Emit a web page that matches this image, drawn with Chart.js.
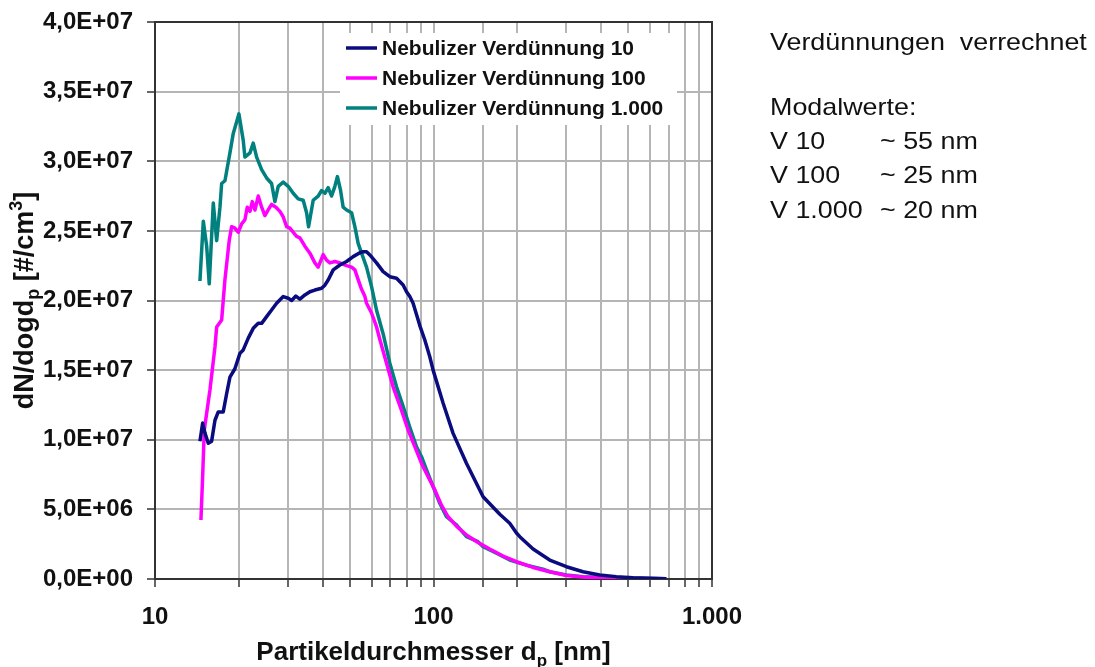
<!DOCTYPE html>
<html><head><meta charset="utf-8">
<script src="https://cdn.jsdelivr.net/npm/chart.js@4.4.0/dist/chart.umd.min.js"></script>
<style>html,body{margin:0;padding:0;background:#fff;}canvas{display:block;}</style>
</head><body>
<canvas id="c" width="1095" height="667"></canvas>
<script>
// ---------- data ----------
const seriesNames = ['Nebulizer Verdünnung 10', 'Nebulizer Verdünnung 100', 'Nebulizer Verdünnung 1.000'];
const seriesColors = ['#0b0b80', '#ff00ff', '#00807e'];

const dV10 = [14.5,14.83,15.11,15.53,15.97,16.42,16.87,17.58,18.08,18.58,19.36,20.18,20.74,21.62,22.53,23.48,24.15,25.16,26.22,27.33,28.87,30.08,30.94,32.05,33.13,34.53,35.99,37.5,39.64,40.74,41.86,43.64,46.11,48.74,51.47,54.4,55.9,57.49,59.08,62.45,65.95,69.7,73.66,77.79,80.01,82.22,84.49,86.9,89.3,93.07,96.98,99.68,108.3,117.6,131.3,150.7,173,187.8,198.6,204.1,227.8,261.4,300.1,344.2,395.2,453.6,520.2,597.1,685.5];
const vV10 = [9.9e6,1.12e7,1.05e7,9.75e6,9.9e6,1.14e7,1.20e7,1.20e7,1.33e7,1.45e7,1.51e7,1.62e7,1.645e7,1.73e7,1.80e7,1.836e7,1.836e7,1.884e7,1.932e7,1.98e7,2.028e7,2.016e7,2.0e7,2.032e7,2.01e7,2.04e7,2.063e7,2.075e7,2.088e7,2.11e7,2.147e7,2.22e7,2.255e7,2.28e7,2.315e7,2.343e7,2.35e7,2.35e7,2.327e7,2.27e7,2.207e7,2.171e7,2.16e7,2.111e7,2.063e7,2.028e7,1.98e7,1.90e7,1.82e7,1.716e7,1.596e7,1.50e7,1.262e7,1.046e7,8.31e6,5.91e6,4.65e6,4.0e6,3.3e6,3.04e6,2.15e6,1.36e6,8.8e5,5.2e5,2.9e5,1.7e5,9e4,5e4,2e4];

const dV100 = [14.62,14.83,15.03,15.75,16.42,16.65,17.35,17.58,17.83,18.47,18.84,19.36,19.9,20.47,21.03,21.44,21.93,22.35,22.85,23.48,24.15,24.81,25.49,26.22,27.18,28.09,28.87,29.69,30.51,31.35,32.24,33.13,34.53,35.99,37.5,38.54,40.17,41.31,42.46,44.25,46.11,48.74,50.8,52.2,53.64,55.17,56.69,57.49,59.92,62.45,64.17,67.82,71.61,76.77,81.07,85.69,90.57,95.64,101.1,106.8,112.8,120.9,131.3,144.5,159.2,177.7,198.6,227.8,261.4,300.1,344.2,395.2,520,685];
const vV100 = [4.24e6,7.4e6,1.07e7,1.357e7,1.668e7,1.81e7,1.86e7,2.0e7,2.15e7,2.43e7,2.53e7,2.52e7,2.49e7,2.55e7,2.58e7,2.67e7,2.64e7,2.71e7,2.65e7,2.75e7,2.67e7,2.61e7,2.65e7,2.69e7,2.67e7,2.64e7,2.60e7,2.53e7,2.52e7,2.49e7,2.46e7,2.45e7,2.39e7,2.34e7,2.27e7,2.24e7,2.33e7,2.29e7,2.27e7,2.28e7,2.27e7,2.25e7,2.24e7,2.22e7,2.15e7,2.08e7,2.03e7,1.98e7,1.91e7,1.81e7,1.72e7,1.55e7,1.38e7,1.21e7,1.07e7,9.5e6,8.3e6,7.35e6,6.4e6,5.3e6,4.47e6,3.8e6,3.16e6,2.62e6,2.15e6,1.65e6,1.24e6,8.3e5,5.2e5,2.5e5,1.4e5,9e4,4e4,1e4];

const dV1000 = [14.5,14.91,15.33,15.66,16.19,16.65,17.11,17.35,17.83,18.58,19.1,20.01,20.74,21.03,21.93,22.53,23.17,24.15,25.16,26.22,26.95,27.7,28.87,30.08,31.35,32.67,34.05,35.02,35.6,36.98,38.54,39.64,40.74,41.86,43.06,44.25,45.2,46.38,47.38,48.74,50.8,52.2,53.64,55.17,57.49,59.92,62.45,65.95,69.7,73.66,77.79,82.22,86.9,90.57,94.39,99.68,105.3,111.3,120.9,131.3,144.5,150.7,168.3,187.8,215.7,247.4,261.4,300.1,344.2,395.2,520.2,685.5];
const vV1000 = [2.14e7,2.57e7,2.39e7,2.12e7,2.70e7,2.43e7,2.67e7,2.84e7,2.86e7,3.06e7,3.20e7,3.34e7,3.15e7,3.03e7,3.06e7,3.13e7,3.03e7,2.94e7,2.88e7,2.84e7,2.71e7,2.82e7,2.85e7,2.82e7,2.77e7,2.73e7,2.72e7,2.63e7,2.53e7,2.72e7,2.75e7,2.79e7,2.77e7,2.81e7,2.75e7,2.82e7,2.89e7,2.79e7,2.67e7,2.65e7,2.63e7,2.53e7,2.41e7,2.34e7,2.24e7,2.10e7,1.93e7,1.76e7,1.55e7,1.38e7,1.24e7,1.09e7,9.5e6,8.78e6,7.83e6,6.63e6,5.44e6,4.47e6,3.88e6,3.04e6,2.68e6,2.32e6,1.85e6,1.36e6,1.0e6,7.0e5,5.2e5,2.9e5,1.7e5,1.2e5,5e4,2e4];

const xTickValues = [10, 100, 1000];
const xTickLabels = ['10', '100', '1.000'];
const yTickLabels = ['0,0E+00','5,0E+06','1,0E+07','1,5E+07','2,0E+07','2,5E+07','3,0E+07','3,5E+07','4,0E+07'];
const xTitle = ['Partikeldurchmesser d', 'p', ' [nm]'];
const yTitle = ['dN/dogd', 'p', ' [#/cm', '3', ']'];
const noteTitle = 'Verdünnungen  verrechnet';
const noteHead = 'Modalwerte:';
const noteRows = [['V 10', '~ 55 nm'], ['V 100', '~ 25 nm'], ['V 1.000', '~ 20 nm']];

// ---------- chart ----------
const FONT = "'Liberation Sans', Arial, sans-serif";
function pts(xs, ys) { return xs.map((x, i) => ({ x: x, y: ys[i] })); }

const deco = {
  id: 'deco',
  afterDatasetsDraw(chart) {
    const ctx = chart.ctx, a = chart.chartArea;
    ctx.save();
    // top/right frame
    ctx.strokeStyle = '#333'; ctx.lineWidth = 2;
    ctx.beginPath(); ctx.moveTo(a.left, a.top); ctx.lineTo(a.right, a.top); ctx.lineTo(a.right, a.bottom); ctx.stroke();
    // legend
    const lx = a.left + 185, ly = a.top + 11;
    ctx.fillStyle = '#fff'; ctx.fillRect(lx, ly, 337, 92);
    ctx.font = 'bold 21px ' + FONT; ctx.textBaseline = 'middle'; ctx.textAlign = 'left';
    seriesNames.forEach((n, i) => {
      const y = ly + 15 + i * 30;
      ctx.strokeStyle = seriesColors[i]; ctx.lineWidth = 3.5;
      ctx.beginPath(); ctx.moveTo(lx + 6, y); ctx.lineTo(lx + 37, y); ctx.stroke();
      ctx.fillStyle = '#111'; ctx.fillText(n, lx + 42, y + 1);
    });
    ctx.restore();
  },
  afterDraw(chart) {
    const ctx = chart.ctx, a = chart.chartArea;
    ctx.save();
    ctx.fillStyle = '#111';
    // x title
    const big = 'bold 26px ' + FONT, small = 'bold 17px ' + FONT;
    ctx.textBaseline = 'alphabetic'; ctx.textAlign = 'left';
    ctx.font = big; const w0 = ctx.measureText(xTitle[0]).width, w2 = ctx.measureText(xTitle[2]).width;
    ctx.font = small; const w1 = ctx.measureText(xTitle[1]).width;
    let x = (a.left + a.right) / 2 - (w0 + w1 + w2) / 2; const by = 660;
    ctx.font = big; ctx.fillText(xTitle[0], x, by); x += w0;
    ctx.font = small; ctx.fillText(xTitle[1], x, by + 6); x += w1;
    ctx.font = big; ctx.fillText(xTitle[2], x, by);
    // y title (rotated)
    const bigY = 'bold 27px ' + FONT, smallY = 'bold 18px ' + FONT;
    ctx.save();
    ctx.translate(33, (a.top + a.bottom) / 2); ctx.rotate(-Math.PI / 2);
    const parts = [[yTitle[0], bigY, 0], [yTitle[1], smallY, 6], [yTitle[2], bigY, 0], [yTitle[3], smallY, -11], [yTitle[4], bigY, 0]];
    let tw = 0; parts.forEach(p => { ctx.font = p[1]; p.push(ctx.measureText(p[0]).width); tw += p[3]; });
    let tx = -tw / 2;
    parts.forEach(p => { ctx.font = p[1]; ctx.fillText(p[0], tx, p[2]); tx += p[3]; });
    ctx.restore();
    // side notes
    ctx.save();
    ctx.translate(770, 0); ctx.scale(1.12, 1);
    ctx.font = '24px ' + FONT; ctx.fillStyle = '#111';
    ctx.fillText(noteTitle, 0, 50);
    ctx.fillText(noteHead, 0, 115);
    noteRows.forEach((r, i) => {
      const yy = 149 + i * 34.3;
      ctx.fillText(r[0], 0, yy);
      ctx.fillText(r[1], 110 / 1.12, yy);
    });
    ctx.restore();
    ctx.restore();
  }
};

new Chart(document.getElementById('c'), {
  type: 'line',
  data: {
    datasets: [
      { label: seriesNames[0], data: pts(dV10, vV10), borderColor: seriesColors[0] },
      { label: seriesNames[1], data: pts(dV100, vV100), borderColor: seriesColors[1] },
      { label: seriesNames[2], data: pts(dV1000, vV1000), borderColor: seriesColors[2] }
    ]
  },
  options: {
    responsive: false, animation: false, devicePixelRatio: 1,
    elements: { line: { borderWidth: 3.5, tension: 0, fill: false, borderJoinStyle: 'round' }, point: { radius: 0 } },
    layout: { padding: { left: 0, top: 22, right: 383, bottom: 0 } },
    plugins: { legend: { display: false }, tooltip: { enabled: false } },
    scales: {
      x: {
        type: 'logarithmic', min: 10, max: 1000,
        afterFit: s => { s.height = 88; s.paddingLeft = 0; s.paddingRight = 0; },
        grid: { color: '#b5b5b5', lineWidth: 2, drawTicks: true, tickLength: 8, tickColor: '#333', tickWidth: 1.5 },
        border: { color: '#333', width: 2 },
        ticks: {
          autoSkip: false, maxRotation: 0, minRotation: 0, padding: 16, color: '#111',
          font: { family: FONT, size: 24, weight: 'bold' },
          callback: (v) => { const i = xTickValues.findIndex(t => Math.abs(t - v) < 1e-6 * t); return i >= 0 ? xTickLabels[i] : ''; }
        }
      },
      y: {
        type: 'linear', min: 0, max: 4e7,
        afterFit: s => { s.width = 155; s.paddingTop = 0; s.paddingBottom = 0; },
        grid: { color: '#b5b5b5', lineWidth: 2, drawTicks: true, tickLength: 8, tickColor: '#333', tickWidth: 1.5 },
        border: { color: '#333', width: 2 },
        ticks: {
          stepSize: 5e6, padding: 14, color: '#111',
          font: { family: FONT, size: 24, weight: 'bold' },
          callback: (v, i) => yTickLabels[i]
        }
      }
    }
  },
  plugins: [deco]
});
</script>
</body></html>
